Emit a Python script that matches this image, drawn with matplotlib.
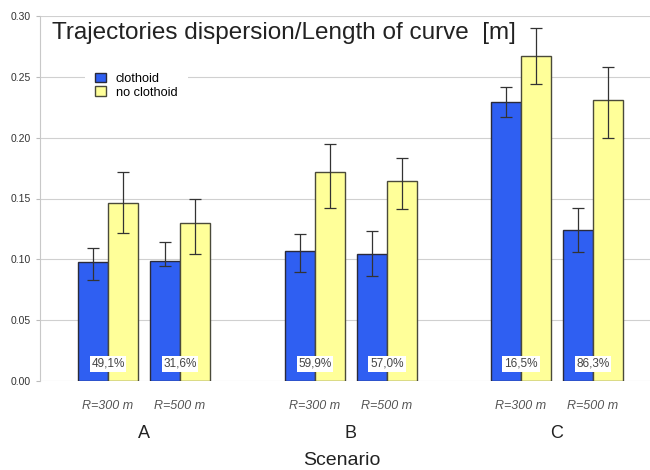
import matplotlib.pyplot as plt
from matplotlib.patches import Patch
import numpy as np

plt.rcParams['font.family'] = ['Liberation Sans', 'DejaVu Sans']

# Scenario / radius layout
groups = ['A', 'B', 'C']
radii = ['R=300 m', 'R=500 m', 'R=300 m', 'R=500 m', 'R=300 m', 'R=500 m']

# Mean dispersion [m] with error bar limits
clothoid = [0.098, 0.099, 0.107, 0.104, 0.229, 0.124]
clothoid_lo = [0.083, 0.0945, 0.090, 0.086, 0.217, 0.106]
clothoid_hi = [0.109, 0.114, 0.121, 0.123, 0.242, 0.142]

no_clothoid = [0.146, 0.130, 0.172, 0.164, 0.267, 0.231]
no_clothoid_lo = [0.122, 0.104, 0.142, 0.141, 0.244, 0.200]
no_clothoid_hi = [0.172, 0.150, 0.195, 0.183, 0.290, 0.258]

# Reduction percentages printed at the foot of each pair
reduction = ['49,1%', '31,6%', '59,9%', '57,0%', '16,5%', '86,3%']

blue = '#2f5ff2'
yellow = '#ffff99'

fig = plt.figure(figsize=(6.5, 4.7), dpi=100)
ax = fig.add_axes([40 / 650, 1 - 381 / 470, 610 / 650, 365 / 470])

group_centers = np.array([1.733, 5.183, 8.617])
centers = np.ravel([[g - 0.6, g + 0.6] for g in group_centers])
w = 0.5

c = np.array(clothoid)
n = np.array(no_clothoid)
c_err = [c - np.array(clothoid_lo), np.array(clothoid_hi) - c]
n_err = [n - np.array(no_clothoid_lo), np.array(no_clothoid_hi) - n]

err_kw = dict(ecolor='#333333', elinewidth=0.9, capsize=4, capthick=0.9)
ax.bar(centers - w / 2, c, w, color=blue, edgecolor='#2a2a3a', linewidth=1,
       yerr=c_err, error_kw=err_kw, zorder=3)
ax.bar(centers + w / 2, n, w, color=yellow, edgecolor='#4a4a3a', linewidth=1,
       yerr=n_err, error_kw=err_kw, zorder=3)

for x, txt in zip(centers, reduction):
    ax.text(x, 0.014, txt, ha='center', va='center', fontsize=8.5, color='#444444',
            bbox=dict(boxstyle='square,pad=0.15', facecolor='white', edgecolor='none'),
            zorder=5)

ax.set_xlim(0, 610 / 60)
ax.set_ylim(0, 0.30)
ax.set_yticks(np.arange(0, 0.31, 0.05))
ax.set_yticklabels([f'{v:.2f}' for v in np.arange(0, 0.31, 0.05)])
ax.tick_params(axis='y', labelsize=7.5, colors='#333333', length=3, color='#bbbbbb')
ax.set_xticks(centers)
ax.set_xticklabels(radii, fontsize=9, style='italic', color='#555555')
ax.tick_params(axis='x', length=0, pad=14)

ax.grid(axis='y', color='#d0d0d0', linewidth=0.8, zorder=0)
ax.set_axisbelow(True)
for side in ['top', 'right', 'bottom']:
    ax.spines[side].set_visible(False)
ax.spines['left'].set_color('#c8c8c8')

for g, name in zip(group_centers, groups):
    ax.text(g, -0.145, name, transform=ax.get_xaxis_transform(), ha='center',
            va='center', fontsize=13, color='#222222')
ax.text(5.03, -0.218, 'Scenario', transform=ax.get_xaxis_transform(), ha='center',
        va='center', fontsize=14, color='#222222')

ax.text(0.02, 0.954, 'Trajectories dispersion/Length of curve  [m]',
        transform=ax.transAxes, ha='left', va='center', fontsize=17.5, color='#222222')

handles = [Patch(facecolor=blue, edgecolor='#2a2a3a', label='clothoid'),
           Patch(facecolor=yellow, edgecolor='#4a4a3a', label='no clothoid')]
leg = ax.legend(handles=handles, loc='upper left', bbox_to_anchor=(0.07, 0.88),
                fontsize=9.2, frameon=True, facecolor='white', edgecolor='none',
                framealpha=1, handlelength=0.8, handleheight=0.8, handletextpad=0.8,
                labelspacing=0.1, borderpad=0.5)
leg.get_frame().set_boxstyle('square')

fig.savefig('out.png', dpi=100)
